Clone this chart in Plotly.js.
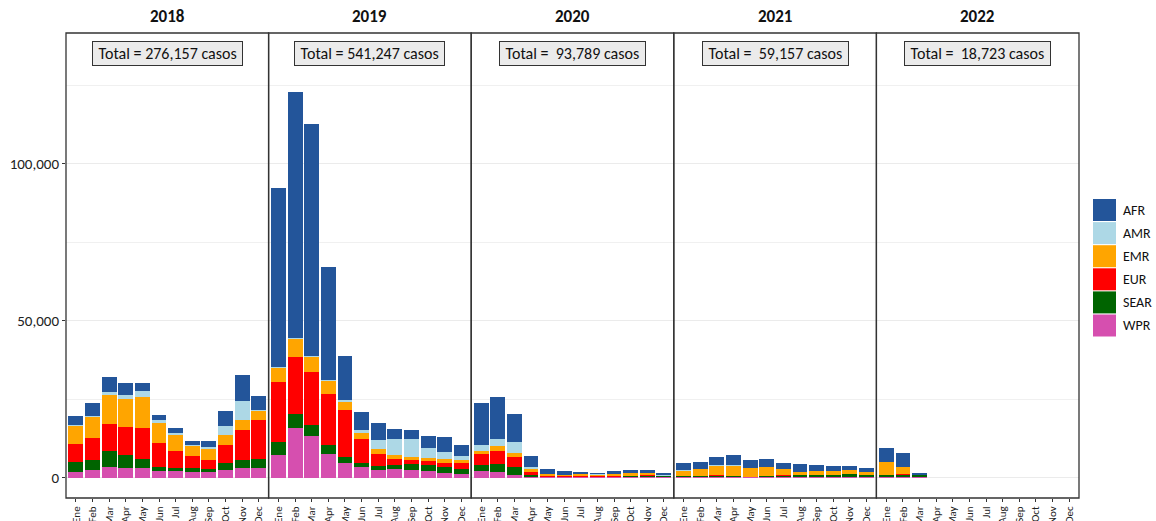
<!DOCTYPE html>
<html>
<head>
<meta charset="utf-8">
<script src="https://cdn.plot.ly/plotly-3.0.1.min.js"></script>
<style>html,body{margin:0;padding:0;background:#fff;}#chart{width:1156px;height:521px;}</style>
</head>
<body>
<div id="chart"></div>
<script>
// ---- data ----
const months = ["Ene","Feb","Mar","Apr","May","Jun","Jul","Aug","Sep","Oct","Nov","Dec"];
const years = ["2018","2019","2020","2021","2022"];
const totals = ["Total = 276,157 casos","Total = 541,247 casos","Total =  93,789 casos","Total =  59,157 casos","Total =  18,723 casos"];
const regions = ["AFR","AMR","EMR","EUR","SEAR","WPR"];
const regionColors = ["#23559A","#ADD8E6","#FFA500","#FF0000","#006400","#D64FAF"];

// values per year (rows: 2018..2022), per month
const AFR = [
  [2870,4240,4870,3820,2550,1690,1590,1270,1910,4670,8280,4460],
  [57330,78350,73890,35900,14010,5730,5410,3185,2870,3820,4780,3500],
  [13380,13380,8920,3500,1590,1270,640,320,955,955,955,640],
  [2230,2230,2550,2970,2550,2550,1910,2550,1910,1590,1270,1270],
  [4460,4460,640,null,null,null,null,null,null,null,null,null]
];
const AMR = [
  [220,320,955,1370,1910,850,640,320,640,2970,5950,320],
  [150,220,220,410,640,955,2870,5100,5730,3185,2230,1270],
  [1910,2230,3500,640,60,50,50,320,50,50,50,320],
  [320,220,320,320,100,100,100,50,50,50,50,50],
  [50,50,0,null,null,null,null,null,null,null,null,null]
];
const EMR = [
  [5730,6690,9140,8820,9870,6370,5100,3280,3500,3080,3185,2870],
  [4460,5830,4870,4140,2550,1910,1590,1270,955,955,1270,955],
  [955,1590,1270,955,640,320,640,320,640,955,640,100],
  [1590,2010,2870,3185,2770,2770,1810,955,1270,1270,1270,955],
  [4140,2130,20,null,null,null,null,null,null,null,null,null]
];
const EUR = [
  [5730,6910,8700,9020,9970,7740,5410,3730,2970,5840,9550,12520],
  [19110,18150,16880,16240,14970,7640,3820,1910,1270,1270,1270,1910],
  [3500,4140,3185,955,320,320,320,320,320,100,320,100],
  [50,50,320,50,50,50,320,50,50,50,50,50],
  [50,420,20,null,null,null,null,null,null,null,null,null]
];
const SEAR = [
  [3185,3185,5100,4040,2770,1170,955,1270,850,2130,2550,2770],
  [4140,4460,3410,2770,1910,1270,1270,1270,1910,1910,1910,1590],
  [1910,2550,2550,640,100,100,100,60,100,320,320,320],
  [320,320,320,320,50,320,320,640,640,640,955,640],
  [530,530,640,null,null,null,null,null,null,null,null,null]
];
const WPR = [
  [1850,2480,3340,3120,3120,2170,2170,1850,1850,2480,3120,3120],
  [7230,15830,13380,7640,4680,3410,2450,2770,2450,2130,1500,1180],
  [2130,1820,860,220,100,100,100,60,100,100,100,50],
  [200,200,200,200,200,200,200,200,200,200,200,200],
  [320,320,50,null,null,null,null,null,null,null,null,null]
];
const seriesByRegion = {AFR, AMR, EMR, EUR, SEAR, WPR};

// ---- layout geometry ----
const W = 1156, H = 521;
const M = {l:66, r:77, t:33, b:23};
const plotW = W - M.l - M.r, plotH = H - M.t - M.b;
const px2x = px => (px - M.l) / plotW;
const px2y = py => (H - M.b - py) / plotH;
const FONT = "Carlito, Calibri, Lato, 'Open Sans', sans-serif";

const traces = [];
const stackOrder = ["WPR","SEAR","EUR","EMR","AMR","AFR"]; // bottom to top
years.forEach((yr, yi) => {
  const xa = yi === 0 ? "x" : "x" + (yi + 1);
  stackOrder.forEach(r => {
    traces.push({
      type: "bar",
      x: months,
      y: seriesByRegion[r][yi],
      name: r,
      xaxis: xa,
      yaxis: "y",
      marker: {color: regionColors[regions.indexOf(r)], line: {width: 0}},
      showlegend: false,
      hovertemplate: r + " %{x} " + yr + ": %{y:,}<extra></extra>"
    });
  });
});

const layout = {
  width: W, height: H,
  margin: {l: M.l, r: M.r, t: M.t, b: M.b},
  paper_bgcolor: "#fff", plot_bgcolor: "#fff",
  barmode: "stack",
  bargap: 0.1,
  showlegend: false,
  font: {family: FONT, color: "#222"},
  yaxis: {
    range: [-6530, 141750],
    tickvals: [0, 50000, 100000],
    tickformat: ",",
    ticks: "outside", ticklen: 3, tickcolor: "#333",
    tickfont: {size: 15, color: "#222", family: FONT},
    showgrid: true, gridcolor: "#EBEBEB", gridwidth: 1,
    minor: {tickvals: [25000, 75000, 125000], showgrid: true, gridcolor: "#F0F0F0", gridwidth: 1, ticks: ""},
    zeroline: false, showline: false,
    anchor: "x"
  },
  annotations: [],
  shapes: []
};

years.forEach((yr, yi) => {
  const key = yi === 0 ? "xaxis" : "xaxis" + (yi + 1);
  const d0 = yi / years.length, d1 = (yi + 1) / years.length;
  layout[key] = {
    domain: [d0, d1],
    anchor: "y",
    type: "category",
    categoryorder: "array",
    categoryarray: months,
    range: [-0.6, 11.6],
    tickangle: -90,
    ticks: "outside", ticklen: 3, tickcolor: "#333",
    tickfont: {size: 11, color: "#222", family: FONT},
    showgrid: false, zeroline: false, showline: false,
    fixedrange: true
  };
  // panel frame
  layout.shapes.push({type: "rect", xref: "paper", yref: "paper", x0: d0, x1: d1, y0: 0, y1: 1,
    line: {color: "#333", width: 1.3}, fillcolor: "rgba(0,0,0,0)", layer: "above"});
  // strip title
  layout.annotations.push({xref: "paper", yref: "paper", x: (d0 + d1) / 2, xanchor: "center",
    y: 1, yanchor: "bottom", yshift: 4,
    text: "<b>" + yr + "</b>", showarrow: false, font: {size: 17, color: "#111", family: FONT}});
  // total box
  layout.annotations.push({xref: "paper", yref: "paper", x: (d0 + d1) / 2, xanchor: "center",
    y: px2y(53.7), yanchor: "middle",
    text: "\u00A0" + totals[yi].replace(/  /g, " \u00A0") + "\u00A0", showarrow: false,
    font: {size: 16, color: "#111", family: FONT},
    bgcolor: "#EBEBEB", bordercolor: "#333", borderwidth: 1, borderpad: 2});
});

// legend (drawn manually)
regions.forEach((r, i) => {
  const top = 199 + i * 23.1;
  layout.shapes.push({type: "rect", xref: "paper", yref: "paper",
    x0: px2x(1093), x1: px2x(1116), y0: px2y(top + 22), y1: px2y(top),
    fillcolor: regionColors[i], line: {width: 0}});
  layout.annotations.push({xref: "paper", yref: "paper", x: px2x(1121), y: px2y(top + 11),
    xanchor: "left", yanchor: "middle", text: r, showarrow: false,
    font: {size: 14, color: "#111", family: FONT}});
});

Plotly.newPlot("chart", traces, layout, {displayModeBar: false, staticPlot: true});
</script>
</body>
</html>
